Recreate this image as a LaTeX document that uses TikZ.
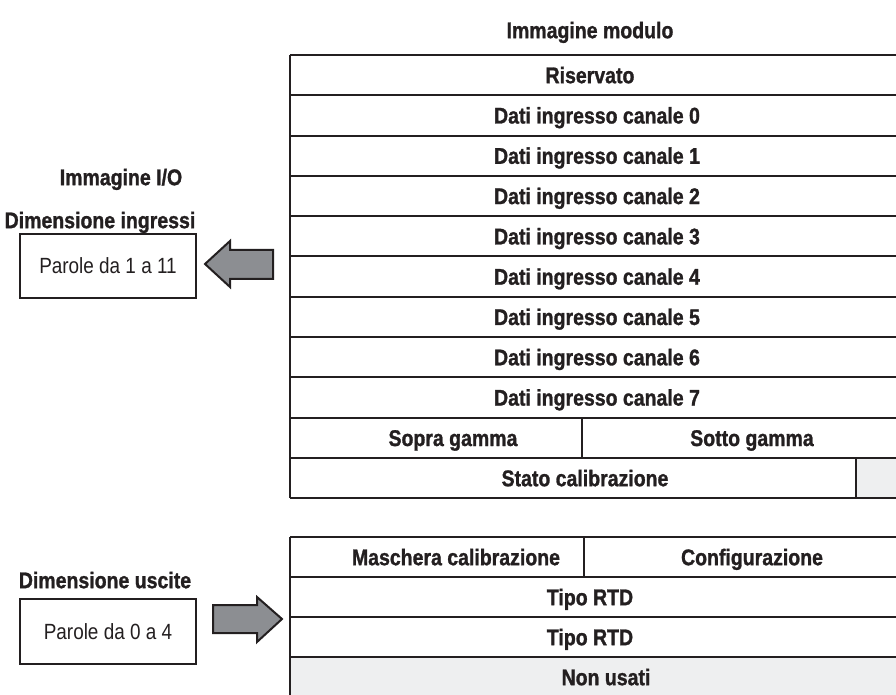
\documentclass[tikz,border=0pt]{standalone}
\usepackage{fontspec}
\setmainfont{Liberation Sans}[FakeStretch=0.86,BoldFeatures={FakeBold=1.2}]
\usetikzlibrary{positioning,calc}
\usepackage{xcolor}
\definecolor{rule}{HTML}{231F20}
\definecolor{unused}{HTML}{EEEFF0}
\definecolor{blockgray}{HTML}{8C8E92}

\begin{document}
\begin{tikzpicture}[x=0.75pt,y=-0.75pt,
    t/.style={font=\fontsize{17}{19}\selectfont\bfseries,inner sep=0pt,text=rule,
      text height=12.3pt,text depth=0pt},
    w/.style={draw=rule,line width=1.5pt,minimum width=132pt,minimum height=48pt,
      font=\fontsize{16.5}{19}\selectfont,text=rule},
    g/.style={draw=rule,line width=1.5pt},
    blk/.style={g,fill=blockgray,line join=miter}]
    \useasboundingbox (0,0) rectangle (896,695);
    \clip (0,0) rectangle (896,695);
    % left side
    \node[t] (iot) at (121,177) {Immagine I/O};
    \node[w] (inbox) at (108,266) {Parole da 1 a 11};
    \node[t] (indim) at (100,220) {Dimensione ingressi};
    \node[w,minimum height=48.75pt] (outbox) at (108,631.5) {Parole da 0 a 4};
    \node[t] (outdim) at (105,580) {Dimensione uscite};
    \draw[blk] (205,264)--(230,241)--(230,250)--(273,250)--(273,279)--(230,279)--(230,287)--cycle;
    \draw[blk] (282,619)--(257,597)--(257,605)--(213,605)--(213,633)--(257,633)--(257,642)--cycle;
    % input image
    \node[t] (mt) at (590,30) {Immagine modulo};
    \fill[unused] (856,458) rectangle (900,498.3);
    \foreach \i in {0,...,11} \draw[g] (290,55+40.3*\i)--(900,55+40.3*\i);
    \draw[g] (290,55)--(290,498.3);
    \draw[g] (582,417.7)--(582,458);
    \draw[g] (856,458)--(856,498.3);
    \node[t] (r0) at (590,75) {Riservato};
    \foreach \i in {0,...,7} \node[t] (c\i) at (597,75+40.3*\i+40.3) {Dati ingresso canale \i};
    \node[t] (og) at (453,437.8) {Sopra gamma};
    \node[t] (ug) at (752,437.8) {Sotto gamma};
    \node[t] (sc) at (585,478) {Stato calibrazione};
    % output image
    \fill[unused] (290,657) rectangle (900,700);
    \foreach \y in {537,577,617,657} \draw[g] (290,\y)--(900,\y);
    \draw[g] (290,537)--(290,700);
    \draw[g] (584,537)--(584,577);
    \node[t] (mc) at (456,557) {Maschera calibrazione};
    \node[t] (cf) at (752,557) {Configurazione};
    \node[t] (rtd1) at (590,597) {Tipo RTD};
    \node[t] (rtd2) at (590,637) {Tipo RTD};
    \node[t] (nu) at (606,677) {Non usati};
  \end{tikzpicture}
\end{document}
